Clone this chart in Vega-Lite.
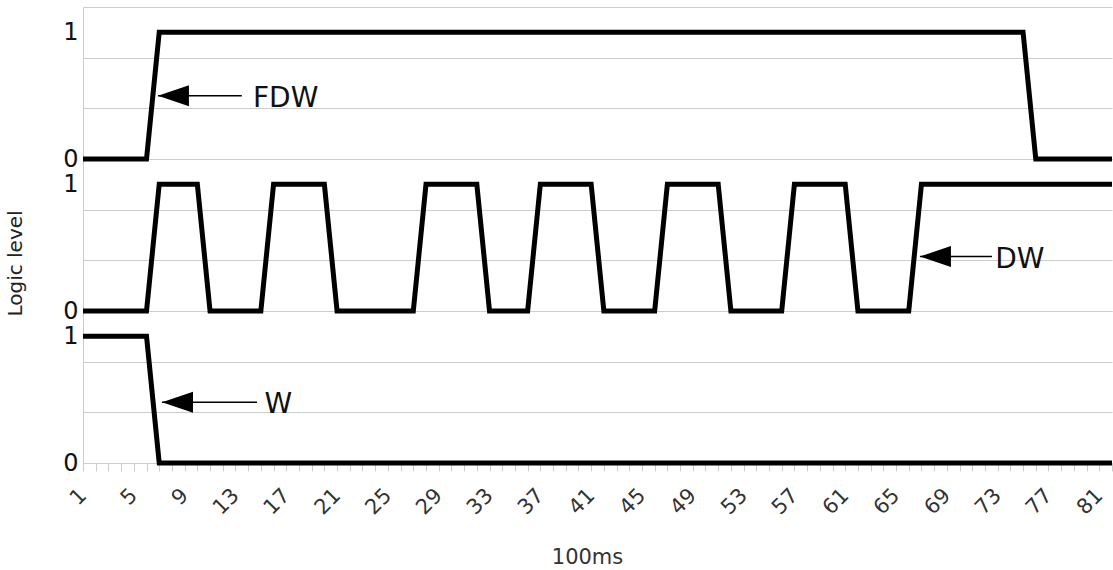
{
  "$schema": "https://vega.github.io/schema/vega-lite/v6.json",
  "width": 1029,
  "height": 456,
  "autosize": {"type": "none"},
  "padding": {"left": 83, "top": 7, "right": 1, "bottom": 107},
  "background": "white",
  "config": {"view": {"stroke": null}},
  "datasets": {
    "FDW": [
      {"t":1,"v":0},{"t":2,"v":0},{"t":3,"v":0},{"t":4,"v":0},{"t":5,"v":0},{"t":6,"v":0},
      {"t":7,"v":1},{"t":8,"v":1},{"t":9,"v":1},{"t":10,"v":1},{"t":11,"v":1},{"t":12,"v":1},{"t":13,"v":1},{"t":14,"v":1},{"t":15,"v":1},{"t":16,"v":1},
      {"t":17,"v":1},{"t":18,"v":1},{"t":19,"v":1},{"t":20,"v":1},{"t":21,"v":1},{"t":22,"v":1},{"t":23,"v":1},{"t":24,"v":1},{"t":25,"v":1},{"t":26,"v":1},
      {"t":27,"v":1},{"t":28,"v":1},{"t":29,"v":1},{"t":30,"v":1},{"t":31,"v":1},{"t":32,"v":1},{"t":33,"v":1},{"t":34,"v":1},{"t":35,"v":1},{"t":36,"v":1},
      {"t":37,"v":1},{"t":38,"v":1},{"t":39,"v":1},{"t":40,"v":1},{"t":41,"v":1},{"t":42,"v":1},{"t":43,"v":1},{"t":44,"v":1},{"t":45,"v":1},{"t":46,"v":1},
      {"t":47,"v":1},{"t":48,"v":1},{"t":49,"v":1},{"t":50,"v":1},{"t":51,"v":1},{"t":52,"v":1},{"t":53,"v":1},{"t":54,"v":1},{"t":55,"v":1},{"t":56,"v":1},
      {"t":57,"v":1},{"t":58,"v":1},{"t":59,"v":1},{"t":60,"v":1},{"t":61,"v":1},{"t":62,"v":1},{"t":63,"v":1},{"t":64,"v":1},{"t":65,"v":1},{"t":66,"v":1},
      {"t":67,"v":1},{"t":68,"v":1},{"t":69,"v":1},{"t":70,"v":1},{"t":71,"v":1},{"t":72,"v":1},{"t":73,"v":1},{"t":74,"v":1},{"t":75,"v":1},
      {"t":76,"v":0},{"t":77,"v":0},{"t":78,"v":0},{"t":79,"v":0},{"t":80,"v":0},{"t":81,"v":0},{"t":82,"v":0}
    ],
    "DW": [
      {"t":1,"v":0},{"t":2,"v":0},{"t":3,"v":0},{"t":4,"v":0},{"t":5,"v":0},{"t":6,"v":0},
      {"t":7,"v":1},{"t":8,"v":1},{"t":9,"v":1},{"t":10,"v":1},
      {"t":11,"v":0},{"t":12,"v":0},{"t":13,"v":0},{"t":14,"v":0},{"t":15,"v":0},
      {"t":16,"v":1},{"t":17,"v":1},{"t":18,"v":1},{"t":19,"v":1},{"t":20,"v":1},
      {"t":21,"v":0},{"t":22,"v":0},{"t":23,"v":0},{"t":24,"v":0},{"t":25,"v":0},{"t":26,"v":0},{"t":27,"v":0},
      {"t":28,"v":1},{"t":29,"v":1},{"t":30,"v":1},{"t":31,"v":1},{"t":32,"v":1},
      {"t":33,"v":0},{"t":34,"v":0},{"t":35,"v":0},{"t":36,"v":0},
      {"t":37,"v":1},{"t":38,"v":1},{"t":39,"v":1},{"t":40,"v":1},{"t":41,"v":1},
      {"t":42,"v":0},{"t":43,"v":0},{"t":44,"v":0},{"t":45,"v":0},{"t":46,"v":0},
      {"t":47,"v":1},{"t":48,"v":1},{"t":49,"v":1},{"t":50,"v":1},{"t":51,"v":1},
      {"t":52,"v":0},{"t":53,"v":0},{"t":54,"v":0},{"t":55,"v":0},{"t":56,"v":0},
      {"t":57,"v":1},{"t":58,"v":1},{"t":59,"v":1},{"t":60,"v":1},{"t":61,"v":1},
      {"t":62,"v":0},{"t":63,"v":0},{"t":64,"v":0},{"t":65,"v":0},{"t":66,"v":0},
      {"t":67,"v":1},{"t":68,"v":1},{"t":69,"v":1},{"t":70,"v":1},{"t":71,"v":1},{"t":72,"v":1},{"t":73,"v":1},{"t":74,"v":1},
      {"t":75,"v":1},{"t":76,"v":1},{"t":77,"v":1},{"t":78,"v":1},{"t":79,"v":1},{"t":80,"v":1},{"t":81,"v":1},{"t":82,"v":1}
    ],
    "W": [
      {"t":1,"v":1},{"t":2,"v":1},{"t":3,"v":1},{"t":4,"v":1},{"t":5,"v":1},{"t":6,"v":1},
      {"t":7,"v":0},{"t":8,"v":0},{"t":9,"v":0},{"t":10,"v":0},{"t":11,"v":0},{"t":12,"v":0},{"t":13,"v":0},{"t":14,"v":0},{"t":15,"v":0},{"t":16,"v":0},
      {"t":17,"v":0},{"t":18,"v":0},{"t":19,"v":0},{"t":20,"v":0},{"t":21,"v":0},{"t":22,"v":0},{"t":23,"v":0},{"t":24,"v":0},{"t":25,"v":0},{"t":26,"v":0},
      {"t":27,"v":0},{"t":28,"v":0},{"t":29,"v":0},{"t":30,"v":0},{"t":31,"v":0},{"t":32,"v":0},{"t":33,"v":0},{"t":34,"v":0},{"t":35,"v":0},{"t":36,"v":0},
      {"t":37,"v":0},{"t":38,"v":0},{"t":39,"v":0},{"t":40,"v":0},{"t":41,"v":0},{"t":42,"v":0},{"t":43,"v":0},{"t":44,"v":0},{"t":45,"v":0},{"t":46,"v":0},
      {"t":47,"v":0},{"t":48,"v":0},{"t":49,"v":0},{"t":50,"v":0},{"t":51,"v":0},{"t":52,"v":0},{"t":53,"v":0},{"t":54,"v":0},{"t":55,"v":0},{"t":56,"v":0},
      {"t":57,"v":0},{"t":58,"v":0},{"t":59,"v":0},{"t":60,"v":0},{"t":61,"v":0},{"t":62,"v":0},{"t":63,"v":0},{"t":64,"v":0},{"t":65,"v":0},{"t":66,"v":0},
      {"t":67,"v":0},{"t":68,"v":0},{"t":69,"v":0},{"t":70,"v":0},{"t":71,"v":0},{"t":72,"v":0},{"t":73,"v":0},{"t":74,"v":0},{"t":75,"v":0},{"t":76,"v":0},
      {"t":77,"v":0},{"t":78,"v":0},{"t":79,"v":0},{"t":80,"v":0},{"t":81,"v":0},{"t":82,"v":0}
    ],
    "arrows": [
      {"s":"FDW","t":6.9,"t2":13.5,"v":0.5},
      {"s":"DW","t":66.88,"t2":72.55,"v":0.43},
      {"s":"W","t":7.22,"t2":14.7,"v":0.48}
    ],
    "labels": [
      {"s":"FDW","t":14.38,"v":0.5,"label":"FDW"},
      {"s":"DW","t":72.8,"v":0.43,"label":"DW"},
      {"s":"W","t":15.29,"v":0.48,"label":"W"}
    ]
  },
  "encoding": {
    "x": {
      "field": "t",
      "type": "quantitative",
      "scale": {"domain": [1, 82], "nice": false, "zero": false},
      "axis": {
        "title": "100ms",
        "values": [1,2,3,4,5,6,7,8,9,10,11,12,13,14,15,16,17,18,19,20,21,22,23,24,25,26,27,28,29,30,31,32,33,34,35,36,37,38,39,40,41,42,43,44,45,46,47,48,49,50,51,52,53,54,55,56,57,58,59,60,61,62,63,64,65,66,67,68,69,70,71,72,73,74,75,76,77,78,79,80,81,82],
        "labelExpr": "(datum.value - 1) % 4 == 0 ? '' + datum.value : ''",
        "labelAngle": -45,
        "labelAlign": "right",
        "labelBaseline": "middle",
        "labelPadding": 21,
        "labelFont": "DejaVu Sans",
        "labelFontSize": 21,
        "labelColor": "#333333",
        "labelOverlap": false,
        "labelFlush": false,
        "labelBound": false,
        "tickColor": "#cccccc",
        "tickSize": 8,
        "tickWidth": 1,
        "domainColor": "#cccccc",
        "grid": false,
        "titleFont": "DejaVu Sans",
        "titleFontSize": 21,
        "titleFontWeight": "normal",
        "titleColor": "#333333",
        "titleBaseline": "alphabetic",
        "titleAlign": "center",
        "titleX": 504,
        "titleY": 100
      }
    }
  },
  "layer": [
    {
      "encoding": {
        "y": {
          "field": "v",
          "type": "quantitative",
          "scale": {"domain": [0, 1.2], "range": [152, 0], "nice": false, "zero": false},
          "axis": {
            "orient": "left",
            "title": null,
            "values": [0, 0.4, 0.8, 1, 1.2],
            "labelExpr": "datum.value == 0 ? '0' : datum.value == 1 ? '1' : ''",
            "labelFont": "DejaVu Sans",
            "labelFontSize": 24,
            "labelColor": "#111111",
            "labelPadding": 5,
            "labelBaseline": "middle",
            "ticks": false,
            "tickSize": 0,
            "domainColor": "#cccccc",
            "grid": true,
            "gridColor": {"condition": {"test": "datum.value == 1", "value": "transparent"}, "value": "#cccccc"},
            "gridWidth": 1
          }
        }
      },
      "layer": [
        {"data": {"name": "FDW"}, "mark": {"type": "line", "color": "#000000", "strokeWidth": 5, "strokeJoin": "miter"}},
        {"data": {"name": "arrows"}, "transform": [{"filter": "datum.s == 'FDW'"}], "mark": {"type": "rule", "color": "#000000", "strokeWidth": 1.5}, "encoding": {"x2": {"field": "t2"}}},
        {"data": {"name": "arrows"}, "transform": [{"filter": "datum.s == 'FDW'"}], "mark": {"type": "point", "shape": "M0,0L2,-0.68L2,0.68Z", "filled": true, "color": "#000000", "opacity": 1, "size": 961, "strokeWidth": 0}},
        {"data": {"name": "labels"}, "transform": [{"filter": "datum.s == 'FDW'"}], "mark": {"type": "text", "align": "left", "baseline": "alphabetic", "dy": 11, "font": "DejaVu Sans", "fontSize": 28, "color": "#111111"}, "encoding": {"text": {"field": "label"}}}
      ]
    },
    {
      "encoding": {
        "y": {
          "field": "v",
          "type": "quantitative",
          "scale": {"domain": [0, 1.2], "range": [304, 152], "nice": false, "zero": false},
          "axis": {
            "orient": "left",
            "title": "Logic level",
            "titleFont": "DejaVu Sans",
            "titleFontSize": 20,
            "titleFontWeight": "normal",
            "titleColor": "#222222",
            "titleAngle": -90,
            "titleAlign": "center",
            "titleBaseline": "alphabetic",
            "titleX": -62,
            "titleY": 256,
            "values": [0, 0.4, 0.8, 1, 1.2],
            "labelExpr": "datum.value == 0 ? '0' : datum.value == 1 ? '1' : ''",
            "labelFont": "DejaVu Sans",
            "labelFontSize": 24,
            "labelColor": "#111111",
            "labelPadding": 5,
            "labelBaseline": "middle",
            "ticks": false,
            "tickSize": 0,
            "domainColor": "#cccccc",
            "grid": true,
            "gridColor": {"condition": {"test": "datum.value == 1", "value": "transparent"}, "value": "#cccccc"},
            "gridWidth": 1
          }
        }
      },
      "layer": [
        {"data": {"name": "DW"}, "mark": {"type": "line", "color": "#000000", "strokeWidth": 5, "strokeJoin": "miter"}},
        {"data": {"name": "arrows"}, "transform": [{"filter": "datum.s == 'DW'"}], "mark": {"type": "rule", "color": "#000000", "strokeWidth": 1.5}, "encoding": {"x2": {"field": "t2"}}},
        {"data": {"name": "arrows"}, "transform": [{"filter": "datum.s == 'DW'"}], "mark": {"type": "point", "shape": "M0,0L2,-0.68L2,0.68Z", "filled": true, "color": "#000000", "opacity": 1, "size": 961, "strokeWidth": 0}},
        {"data": {"name": "labels"}, "transform": [{"filter": "datum.s == 'DW'"}], "mark": {"type": "text", "align": "left", "baseline": "alphabetic", "dy": 11, "font": "DejaVu Sans", "fontSize": 28, "color": "#111111"}, "encoding": {"text": {"field": "label"}}}
      ]
    },
    {
      "encoding": {
        "y": {
          "field": "v",
          "type": "quantitative",
          "scale": {"domain": [0, 1.2], "range": [456, 304], "nice": false, "zero": false},
          "axis": {
            "orient": "left",
            "title": null,
            "values": [0, 0.4, 0.8, 1, 1.2],
            "labelExpr": "datum.value == 0 ? '0' : datum.value == 1 ? '1' : ''",
            "labelFont": "DejaVu Sans",
            "labelFontSize": 24,
            "labelColor": "#111111",
            "labelPadding": 5,
            "labelBaseline": "middle",
            "ticks": false,
            "tickSize": 0,
            "domainColor": "#cccccc",
            "grid": true,
            "gridColor": {"condition": {"test": "datum.value == 1", "value": "transparent"}, "value": "#cccccc"},
            "gridWidth": 1
          }
        }
      },
      "layer": [
        {"data": {"name": "W"}, "mark": {"type": "line", "color": "#000000", "strokeWidth": 5, "strokeJoin": "miter"}},
        {"data": {"name": "arrows"}, "transform": [{"filter": "datum.s == 'W'"}], "mark": {"type": "rule", "color": "#000000", "strokeWidth": 1.5}, "encoding": {"x2": {"field": "t2"}}},
        {"data": {"name": "arrows"}, "transform": [{"filter": "datum.s == 'W'"}], "mark": {"type": "point", "shape": "M0,0L2,-0.68L2,0.68Z", "filled": true, "color": "#000000", "opacity": 1, "size": 961, "strokeWidth": 0}},
        {"data": {"name": "labels"}, "transform": [{"filter": "datum.s == 'W'"}], "mark": {"type": "text", "align": "left", "baseline": "alphabetic", "dy": 11, "font": "DejaVu Sans", "fontSize": 28, "color": "#111111"}, "encoding": {"text": {"field": "label"}}}
      ]
    }
  ],
  "resolve": {"scale": {"y": "independent"}, "axis": {"y": "independent"}}
}
